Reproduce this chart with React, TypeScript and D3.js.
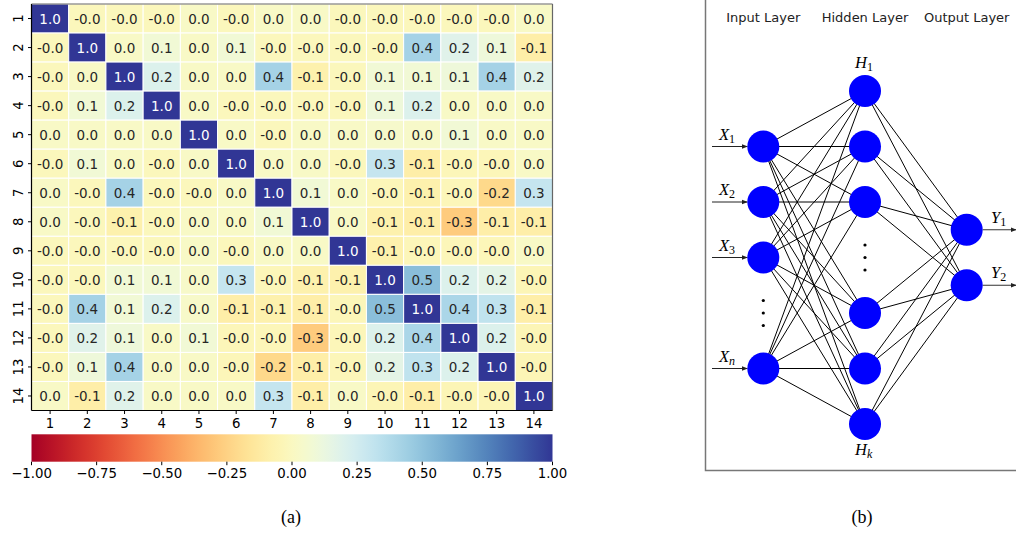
import React from "react";
import * as d3 from "d3";

// ---------- Data ----------
const featureLabels = ["1","2","3","4","5","6","7","8","9","10","11","12","13","14"];

// Correlation matrix (estimated; "-0.0" shown cells are small negatives, "0.0" small positives)
const corrRow1 = [1.0, -0.02, -0.02, -0.02, 0.02, -0.02, 0.02, 0.02, -0.02, -0.02, -0.02, -0.02, -0.02, 0.02];
const corrRow2 = [-0.02, 1.0, 0.02, 0.08, 0.02, 0.08, -0.02, -0.02, -0.02, -0.02, 0.42, 0.18, 0.1, -0.1];
const corrRow3 = [-0.02, 0.02, 1.0, 0.2, 0.02, 0.02, 0.42, -0.08, -0.02, 0.08, 0.08, 0.1, 0.42, 0.18];
const corrRow4 = [-0.02, 0.08, 0.2, 1.0, 0.02, -0.02, -0.02, -0.02, -0.02, 0.1, 0.2, 0.02, 0.02, 0.02];
const corrRow5 = [0.02, 0.02, 0.02, 0.02, 1.0, 0.02, -0.02, 0.02, 0.02, 0.04, 0.03, 0.08, 0.02, 0.02];
const corrRow6 = [-0.02, 0.08, 0.02, -0.02, 0.02, 1.0, 0.02, 0.02, -0.02, 0.3, -0.1, -0.03, -0.03, 0.02];
const corrRow7 = [0.02, -0.02, 0.42, -0.02, -0.02, 0.02, 1.0, 0.08, 0.02, -0.03, -0.08, -0.03, -0.22, 0.3];
const corrRow8 = [0.02, -0.02, -0.08, -0.02, 0.02, 0.02, 0.08, 1.0, 0.02, -0.08, -0.1, -0.28, -0.1, -0.1];
const corrRow9 = [-0.02, -0.02, -0.02, -0.02, 0.02, -0.02, 0.02, 0.02, 1.0, -0.08, -0.03, -0.03, -0.03, 0.02];
const corrRow10 = [-0.02, -0.02, 0.08, 0.08, 0.03, 0.3, -0.03, -0.08, -0.08, 1.0, 0.52, 0.2, 0.16, -0.04];
const corrRow11 = [-0.02, 0.42, 0.08, 0.2, 0.03, -0.1, -0.08, -0.1, -0.03, 0.52, 1.0, 0.4, 0.32, -0.1];
const corrRow12 = [-0.02, 0.18, 0.1, 0.02, 0.08, -0.03, -0.03, -0.28, -0.03, 0.2, 0.4, 1.0, 0.2, -0.04];
const corrRow13 = [-0.02, 0.1, 0.42, 0.02, 0.02, -0.03, -0.22, -0.1, -0.03, 0.16, 0.32, 0.2, 1.0, -0.04];
const corrRow14 = [0.02, -0.1, 0.18, 0.02, 0.02, 0.02, 0.3, -0.1, 0.02, -0.04, -0.1, -0.04, -0.04, 1.0];
const corrMatrix = [corrRow1, corrRow2, corrRow3, corrRow4, corrRow5, corrRow6, corrRow7,
  corrRow8, corrRow9, corrRow10, corrRow11, corrRow12, corrRow13, corrRow14];

const colorbarTicks = [-1.0, -0.75, -0.5, -0.25, 0.0, 0.25, 0.5, 0.75, 1.0];

// Network diagram
const layerTitles = ["Input Layer", "Hidden Layer", "Output Layer"];
const inputSlots = [1, 2, 3, 5];       // slot index (slot 4 = ellipsis)
const inputNames = ["1", "2", "3", "n"];
const hiddenSlots = [0, 1, 2, 4, 5, 6]; // slot 3 = ellipsis
const outputSlots = [2.5, 3.5];
const outputNames = ["1", "2"];

// ---------- Layout ----------
const W = 1016, H = 533;
const hmLeft = 31.5, hmRight = 552.5, hmTop = 4, hmBottom = 410.5;
const cbTop = 434.3, cbBottom = 461.7;

const xBand = d3.scaleBand<string>().domain(featureLabels).range([hmLeft, hmRight]);
const yBand = d3.scaleBand<string>().domain(featureLabels).range([hmTop, hmBottom]);
const color = (v: number) => d3.interpolateRdYlBu((v + 1) / 2);
const cbScale = d3.scaleLinear().domain([-1, 1]).range([hmLeft, hmRight]);

const fmtCell = (v: number) => (v < 0 ? "-" : "") + Math.abs(v).toFixed(1);
const fmtCb = (v: number) => (v < 0 ? "\u2212" : "") + Math.abs(v).toFixed(2);

// network scales
const colX = d3.scaleOrdinal<number, number>().domain([0, 1, 2]).range([763.3, 865, 966.7]);
const slotY = d3.scaleLinear().domain([0, 6]).range([91, 424]);
const R = 16;

const tickFont = "'DejaVu Sans', sans-serif";

function Heatmap() {
  const gradStops = d3.range(0, 1.0001, 0.02);
  return (
    <g>
      <defs>
        <linearGradient id="cbgrad" x1="0" x2="1" y1="0" y2="0">
          {gradStops.map((t, i) => (
            <stop key={i} offset={t} stopColor={d3.interpolateRdYlBu(t)} />
          ))}
        </linearGradient>
      </defs>
      {corrMatrix.map((row, i) =>
        row.map((v, j) => (
          <g key={`${i}-${j}`}>
            <rect
              x={xBand(featureLabels[j])!}
              y={yBand(featureLabels[i])!}
              width={xBand.bandwidth()}
              height={yBand.bandwidth()}
              fill={color(v)}
              stroke="#ffffff"
              strokeWidth={1}
            />
            <text
              x={xBand(featureLabels[j])! + xBand.bandwidth() / 2}
              y={yBand(featureLabels[i])! + yBand.bandwidth() / 2}
              textAnchor="middle"
              dominantBaseline="central"
              fontFamily={tickFont}
              fontSize={13.5}
              fill={v > 0.7 ? "#ffffff" : "#262626"}
            >
              {fmtCell(v)}
            </text>
          </g>
        ))
      )}
      {/* frame */}
      <line x1={hmLeft} x2={hmRight} y1={hmTop} y2={hmTop} stroke="#666" strokeWidth={1.2} />
      <line x1={hmRight} x2={hmRight} y1={hmTop} y2={hmBottom} stroke="#666" strokeWidth={1.2} />
      <line x1={hmLeft} x2={hmLeft} y1={hmTop} y2={hmBottom} stroke="#000" strokeWidth={1.2} />
      <line x1={hmLeft} x2={hmRight} y1={hmBottom} y2={hmBottom} stroke="#000" strokeWidth={1.2} />
      {/* x ticks */}
      {featureLabels.map((l) => {
        const x = xBand(l)! + xBand.bandwidth() / 2;
        return (
          <g key={"xt" + l}>
            <line x1={x} x2={x} y1={hmBottom} y2={hmBottom + 3.5} stroke="#000" />
            <text x={x} y={hmBottom + 12.5} textAnchor="middle" dominantBaseline="central"
              fontFamily={tickFont} fontSize={13.3} fill="#000">{l}</text>
          </g>
        );
      })}
      {/* y ticks */}
      {featureLabels.map((l) => {
        const y = yBand(l)! + yBand.bandwidth() / 2;
        return (
          <g key={"yt" + l}>
            <line x1={hmLeft - 3.5} x2={hmLeft} y1={y} y2={y} stroke="#000" />
            <text transform={`translate(${hmLeft - 13.5},${y}) rotate(-90)`} textAnchor="middle"
              dominantBaseline="central" fontFamily={tickFont} fontSize={13.3} fill="#000">{l}</text>
          </g>
        );
      })}
      {/* colorbar */}
      <rect x={hmLeft} y={cbTop} width={hmRight - hmLeft} height={cbBottom - cbTop} fill="url(#cbgrad)" />
      {colorbarTicks.map((t) => {
        const x = cbScale(t);
        return (
          <g key={"cb" + t}>
            <line x1={x} x2={x} y1={cbBottom} y2={cbBottom + 3.5} stroke="#000" />
            <text x={x} y={cbBottom + 11.5} textAnchor="middle" dominantBaseline="central"
              fontFamily={tickFont} fontSize={13.3} fill="#000">{fmtCb(t)}</text>
          </g>
        );
      })}
      <text x={291} y={523} textAnchor="middle" fontFamily="'Liberation Serif', 'Times New Roman', serif"
        fontSize={18} fill="#000">(a)</text>
    </g>
  );
}

function Network() {
  const inputs = inputSlots.map((s, i) => ({ x: colX(0), y: slotY(s), name: inputNames[i] }));
  const hidden = hiddenSlots.map((s) => ({ x: colX(1), y: slotY(s) }));
  const outputs = outputSlots.map((s, i) => ({ x: colX(2), y: slotY(s), name: outputNames[i] }));
  const mathFont = "'Liberation Serif', 'Times New Roman', serif";
  const edges: [number, number, number, number][] = [];
  inputs.forEach((a) => hidden.forEach((b) => edges.push([a.x, a.y, b.x, b.y])));
  hidden.forEach((a) => outputs.forEach((b) => edges.push([a.x, a.y, b.x, b.y])));
  return (
    <g>
      <defs>
        <marker id="arrow" viewBox="0 0 10 10" refX="9" refY="5" markerWidth="6" markerHeight="6"
          orient="auto" markerUnits="userSpaceOnUse">
          <path d="M0,1 L10,5 L0,9 Z" fill="#222" />
        </marker>
      </defs>
      <rect x={705.5} y={-5} width={330} height={475.5} fill="none" stroke="#777" strokeWidth={1.5} />
      {layerTitles.map((t, i) => (
        <text key={t} x={colX(i)} y={22} textAnchor="middle" fontFamily="'DejaVu Sans', sans-serif"
          fontSize={13} fill="#222">{t}</text>
      ))}
      {edges.map((e, i) => (
        <line key={i} x1={e[0]} y1={e[1]} x2={e[2]} y2={e[3]} stroke="#000" strokeWidth={1} />
      ))}
      {inputs.map((n) => (
        <g key={"in" + n.name}>
          <line x1={712} x2={n.x - R} y1={n.y} y2={n.y} stroke="#222" strokeWidth={1} markerEnd="url(#arrow)" />
          <text x={719} y={n.y - 7} fontFamily={mathFont} fontStyle="italic" fontSize={16.5} fill="#000">
            X<tspan fontSize={12} dy={3} fontStyle={n.name === "n" ? "italic" : "normal"}>{n.name}</tspan>
          </text>
        </g>
      ))}
      {outputs.map((n) => (
        <g key={"out" + n.name}>
          <line x1={n.x + R} x2={1016} y1={n.y} y2={n.y} stroke="#333" strokeWidth={1.2} markerEnd="url(#arrow)" />
          <text x={991} y={n.y - 7} fontFamily={mathFont} fontStyle="italic" fontSize={16.5} fill="#000">
            Y<tspan fontSize={12} dy={3} fontStyle="normal">{n.name}</tspan>
          </text>
        </g>
      ))}
      {[...inputs, ...hidden, ...outputs].map((n, i) => (
        <circle key={"c" + i} cx={n.x} cy={n.y} r={R} fill="#0000ff" />
      ))}
      {/* ellipses */}
      {[-12.5, 0, 12.5].map((d, i) => (
        <g key={"dots" + i}>
          <circle cx={colX(0)} cy={slotY(4) + d} r={1.6} fill="#000" />
          <circle cx={colX(1)} cy={slotY(3) + d} r={1.6} fill="#000" />
        </g>
      ))}
      <text x={colX(1) - 10} y={68} fontFamily={mathFont} fontStyle="italic" fontSize={16.5} fill="#000">
        H<tspan fontSize={12} dy={3} fontStyle="normal">1</tspan>
      </text>
      <text x={colX(1) - 10} y={455} fontFamily={mathFont} fontStyle="italic" fontSize={16.5} fill="#000">
        H<tspan fontSize={12} dy={3}>k</tspan>
      </text>
      <text x={862} y={523} textAnchor="middle" fontFamily={mathFont} fontSize={18} fill="#000">(b)</text>
    </g>
  );
}

export default function App() {
  return (
    <div style={{ position: "absolute", left: 0, top: 0, width: W, height: H }}>
      <svg width={W} height={H} style={{ display: "block", background: "#fff" }}>
        <Heatmap />
        <Network />
      </svg>
    </div>
  );
}
